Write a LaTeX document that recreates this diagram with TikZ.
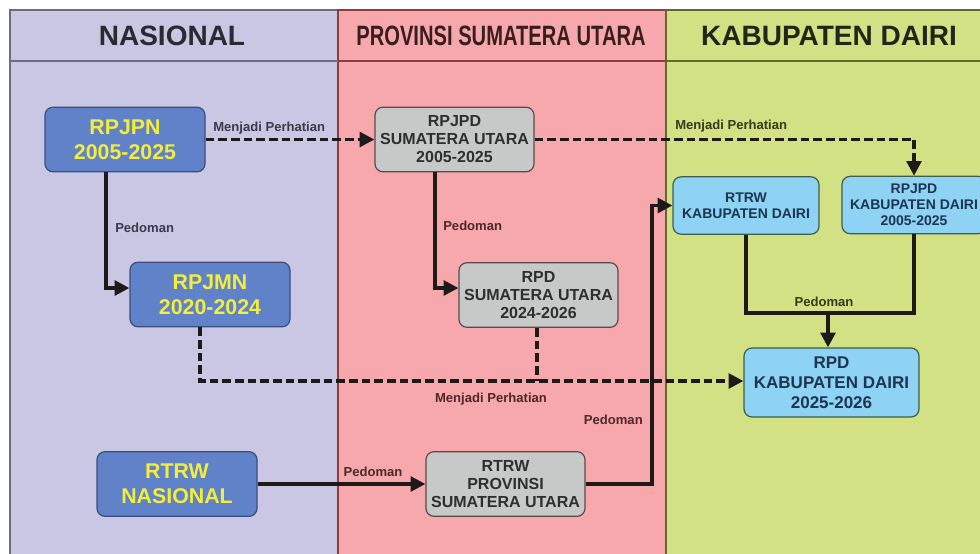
\documentclass[tikz,border=0pt]{standalone}
\usepackage{fontspec}
\setmainfont{Liberation Sans}
\usetikzlibrary{arrows.meta}
\definecolor{colA}{HTML}{C9C7E3}
\definecolor{colB}{HTML}{F6A8AC}
\definecolor{colC}{HTML}{D3E185}
\definecolor{bordA}{HTML}{6C6C80}
\definecolor{bordB}{HTML}{8E3C3C}
\definecolor{bordC}{HTML}{5E6A2C}
\definecolor{bluefill}{HTML}{5F82C8}
\definecolor{blueborder}{HTML}{3D4C7E}
\definecolor{yellowtxt}{HTML}{F4EE3A}
\definecolor{grayfill}{HTML}{C7C8C8}
\definecolor{grayborder}{HTML}{5A4A4A}
\definecolor{graytxt}{HTML}{2E2E2E}
\definecolor{skyfill}{HTML}{8ED2F4}
\definecolor{skyborder}{HTML}{3E5E4A}
\definecolor{skytxt}{HTML}{1C3550}
\definecolor{linecol}{HTML}{1E1A1A}
\definecolor{lblA}{HTML}{3A3A4A}
\definecolor{lblB}{HTML}{4E2828}
\definecolor{lblC}{HTML}{363A1A}
\definecolor{hdA}{HTML}{2A2A30}
\definecolor{hdB}{HTML}{3A1E1E}
\definecolor{hdC}{HTML}{22261A}
\begin{document}
\begin{tikzpicture}[x=0.75pt,y=-0.75pt,
  bluebox/.style={draw=blueborder, fill=bluefill, rounded corners=6pt, line width=0.9pt,
    text=yellowtxt, font=\bfseries\fontsize{16}{19}\selectfont, align=center, inner sep=0pt,
    minimum width=120pt, minimum height=48.5pt},
  graybox/.style={draw=grayborder, fill=grayfill, rounded corners=6pt, line width=0.9pt,
    text=graytxt, font=\bfseries\fontsize{12}{13.5}\selectfont, align=center, inner sep=0pt,
    minimum width=119.25pt, minimum height=48.5pt},
  skybox/.style={draw=skyborder, fill=skyfill, rounded corners=6pt, line width=0.9pt,
    text=skytxt, font=\bfseries\fontsize{10.5}{12}\selectfont, align=center, inner sep=0pt,
    minimum width=109.5pt, minimum height=43pt},
  bigsky/.style={skybox, font=\bfseries\fontsize{12.75}{15}\selectfont,
    minimum width=131.25pt, minimum height=51.75pt},
  header/.style={font=\bfseries\fontsize{21}{24}\selectfont, inner sep=0pt},
  lbl/.style={font=\bfseries\fontsize{9.8}{11}\selectfont, inner sep=0pt},
  solidarrow/.style={draw=linecol, line width=2.5pt, -{Triangle[length=11pt,width=11pt]}},
  solidline/.style={draw=linecol, line width=2.5pt},
  dashline/.style={draw=linecol, line width=2.5pt, dash pattern=on 6.5pt off 3pt},
  dasharrow/.style={dashline, -{Triangle[length=11pt,width=11pt]}}
]
\useasboundingbox (0,0) rectangle (980,553);
\fill[white] (0,0) rectangle (980,553);
% columns
\filldraw[fill=colA, draw=bordA, line width=1.1pt] (10,10) rectangle (338,560);
\filldraw[fill=colB, draw=bordB, line width=1.1pt] (338,10) rectangle (666,560);
\filldraw[fill=colC, draw=bordC, line width=1.1pt] (666,10) rectangle (995,560);
\draw[bordA, line width=1.1pt] (10,61) -- (338,61);
\draw[bordB, line width=1.1pt] (338,61) -- (666,61);
\draw[bordC, line width=1.1pt] (666,61) -- (995,61);
% headers
\node[header, text=hdA] (hA) at (172,36) {NASIONAL};
\node[header, text=hdB] (hB) at (501,36) {\scalebox{0.72}[1]{PROVINSI SUMATERA UTARA}};
\node[header, text=hdC] (hC) at (829,36) {KABUPATEN DAIRI};
% boxes
\node[bluebox] (rpjpn) at (125,139.5) {RPJPN\\2005-2025};
\node[bluebox] (rpjmn) at (210,294.5) {RPJMN\\2020-2024};
\node[bluebox] (rtrwn) at (177,484) {RTRW\\NASIONAL};
\node[graybox] (rpjpdsu) at (454.5,139.5) {RPJPD\\SUMATERA UTARA\\2005-2025};
\node[graybox] (rpdsu) at (538.5,295) {RPD\\SUMATERA UTARA\\2024-2026};
\node[graybox] (rtrwp) at (505.5,484) {RTRW\\PROVINSI\\SUMATERA UTARA};
\node[skybox] (rtrwk) at (746,205.5) {RTRW\\KABUPATEN DAIRI};
\node[skybox, minimum width=108pt] (rpjpdk) at (914,205) {RPJPD\\KABUPATEN DAIRI\\2005-2025};
\node[bigsky] (rpdk) at (831.5,382.5) {RPD\\KABUPATEN DAIRI\\2025-2026};
% bend coordinates
\coordinate (c1) at (106,288);
\coordinate (c2) at (435,288);
\coordinate (c3) at (200,381);
\coordinate (c4) at (537,381);
\coordinate (c6) at (652,484);
\coordinate (c7) at (828,313);
% connectors
\draw[dasharrow] (rpjpn.east) -- (rpjpdsu.west);
\draw[dasharrow] (rpjpdsu.east) -| (rpjpdk.north);
\draw[solidarrow] (rpjpn.south -| c1) |- (rpjmn.west |- c1);
\draw[solidarrow] (rpjpdsu.south -| c2) |- (rpdsu.west |- c2);
\draw[dasharrow] (rpjmn.south -| c3) |- (rpdk.west |- c3);
\draw[dashline] (rpdsu.south -| c4) -- (c4);
\draw[solidarrow] (rtrwn.east) -- (rtrwp.west);
\draw[solidarrow] (rtrwp.east) -- (c6) |- (rtrwk.west);
\draw[solidline] (rtrwk.south) |- (c7);
\draw[solidline] (rpjpdk.south) |- (c7);
\draw[solidarrow] (c7) -- (rpdk.north -| c7);
% labels
\node[lbl, text=lblA, anchor=west] (l1) at (213,128) {Menjadi Perhatian};
\node[lbl, text=lblC, anchor=west] (l2) at (675,126) {Menjadi Perhatian};
\node[lbl, text=lblA, anchor=west] (l3) at (115,228) {Pedoman};
\node[lbl, text=lblB, anchor=west] (l4) at (443,226) {Pedoman};
\node[lbl, text=lblB] (l5) at (491,399) {Menjadi Perhatian};
\node[lbl, text=lblB, anchor=east] (l6) at (643,420) {Pedoman};
\node[lbl, text=lblB] (l7) at (373,472) {Pedoman};
\node[lbl, text=lblC] (l8) at (824,302) {Pedoman};
\end{tikzpicture}
\end{document}
